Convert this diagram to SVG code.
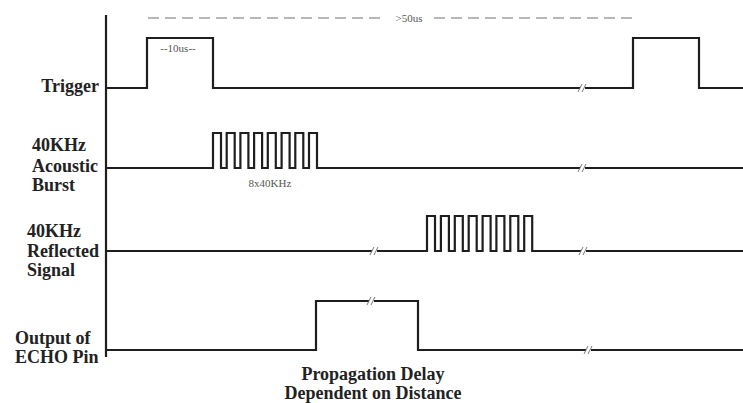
<svg xmlns="http://www.w3.org/2000/svg" width="743" height="403" viewBox="0 0 743 403">
<style>
.sig{fill:none;stroke:#1e1e1e;stroke-width:2.2;stroke-linejoin:miter}
.lbl{font-family:"Liberation Serif","Times New Roman",serif;font-weight:bold;font-size:18px;fill:#222}
.small{font-family:"Liberation Serif","Times New Roman",serif;font-size:11px;fill:#555}
.dash{stroke:#a0a0a0;stroke-width:1.6;stroke-dasharray:11 6;fill:none}
.brk{stroke:#777;stroke-width:1;fill:none}
.gap{stroke:#fff;stroke-width:4}
</style>
<rect width="743" height="403" fill="#fff"/>
<g id="axis"><line x1="106" y1="15" x2="106" y2="357" class="sig"/></g>
<g id="labels">
<text class="lbl" x="99" y="92" text-anchor="end">Trigger</text>
<text class="lbl" x="32" y="151">40KHz</text>
<text class="lbl" x="32" y="172">Acoustic</text>
<text class="lbl" x="32" y="191">Burst</text>
<text class="lbl" x="27" y="237">40KHz</text>
<text class="lbl" x="27" y="257">Reflected</text>
<text class="lbl" x="27" y="276">Signal</text>
<text class="lbl" x="15" y="344">Output of</text>
<text class="lbl" x="15" y="363">ECHO Pin</text>
<text class="lbl" x="373" y="380" text-anchor="middle">Propagation Delay</text>
<text class="lbl" x="373" y="399" text-anchor="middle">Dependent on Distance</text>
</g>
<g id="timing">
<line class="dash" x1="148" y1="18" x2="385" y2="18"/>
<line class="dash" x1="434" y1="18" x2="636" y2="18"/>
<text class="small" x="409" y="22" text-anchor="middle">&gt;50us</text>
<text class="small" x="178" y="52" text-anchor="middle">--10us--</text>
<text class="small" x="270" y="187" text-anchor="middle">8x40KHz</text>
</g>
<g id="trigger">
<polyline class="sig" points="107,88 147,88 147,38 213,38 213,88 633,88 633,38 699,38 699,88 743,88"/>
</g>
<g id="burst">
<path class="sig" d="M107,168 H213 V133 H221 V168 H226.7 V133 H234.7 V168 H240.4 V133 H248.4 V168 H254.1 V133 H262.1 V168 H267.8 V133 H275.8 V168 H281.6 V133 H289.6 V168 H295.3 V133 H303.3 V168 H309 V133 H317 V168 H743"/>
</g>
<g id="reflected">
<path class="sig" d="M107,251 H427 V216 H435 V251 H440.9 V216 H448.9 V251 H454.8 V216 H462.8 V251 H468.7 V216 H476.7 V251 H482.6 V216 H490.6 V251 H496.4 V216 H504.4 V251 H510.3 V216 H518.3 V251 H524.2 V216 H532.2 V251 H743"/>
</g>
<g id="echo">
<polyline class="sig" points="107,350 316,350 316,301 418,301 418,350 743,350"/>
</g>
<g id="breaks">
<line class="gap" x1="580" y1="88" x2="585" y2="88"/>
<path class="brk" d="M578,92 L582,84 M582,92 L586,84"/>
<line class="gap" x1="580" y1="168" x2="585" y2="168"/>
<path class="brk" d="M578,172 L582,164 M582,172 L586,164"/>
<line class="gap" x1="372" y1="251" x2="377" y2="251"/>
<path class="brk" d="M370,255 L374,247 M374,255 L378,247"/>
<line class="gap" x1="581" y1="251" x2="586" y2="251"/>
<path class="brk" d="M579,255 L583,247 M583,255 L587,247"/>
<line class="gap" x1="369" y1="301" x2="374" y2="301"/>
<path class="brk" d="M367,305 L371,297 M371,305 L375,297"/>
<line class="gap" x1="586" y1="350" x2="591" y2="350"/>
<path class="brk" d="M584,354 L588,346 M588,354 L592,346"/>
</g>
</svg>
